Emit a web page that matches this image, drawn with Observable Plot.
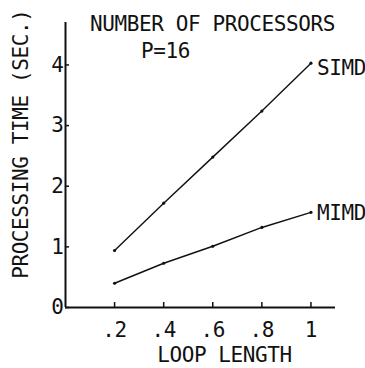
<!DOCTYPE html>
<html>
<head>
<meta charset="utf-8">
<script src="https://cdn.jsdelivr.net/npm/d3@7"></script>
<script src="https://cdn.jsdelivr.net/npm/@observablehq/plot@0.6"></script>
<style>
  html, body { margin: 0; padding: 0; background: #fff; }
  svg text { letter-spacing: -0.4px; }
</style>
</head>
<body>
<div id="chart"></div>
<script>
const loopLength = [0.2, 0.4, 0.6, 0.8, 1.0];
const simd = [0.94, 1.72, 2.48, 3.24, 4.03];
const mimd = [0.40, 0.73, 1.01, 1.32, 1.57];
const xTicks = [0.2, 0.4, 0.6, 0.8, 1.0];
const xTickLabels = [".2", ".4", ".6", ".8", "1"];
const yTicks = [0, 1, 2, 3, 4];
const seriesNames = ["SIMD", "MIMD"];
const title = "NUMBER OF PROCESSORS";
const subtitle = "P=16";
const xLabel = "LOOP LENGTH";
const yLabel = "PROCESSING TIME (SEC.)";

const data = [];
[simd, mimd].forEach((vals, s) => vals.forEach((v, i) => data.push({series: seriesNames[s], x: loopLength[i], y: v})));
const last = loopLength.length - 1;
const simdEnd = [{series: seriesNames[0], x: loopLength[last], y: simd[last]}];
const mimdEnd = [{series: seriesNames[1], x: loopLength[last], y: mimd[last]}];

const font = "DejaVu Sans Mono";
const fs = 21;
const chart = Plot.plot({
  width: 365,
  height: 368,
  marginLeft: 65,
  marginRight: 30,
  marginTop: 22,
  marginBottom: 61,
  style: {fontFamily: font, fontSize: fs + "px", color: "#111", background: "#fff"},
  x: {domain: [0, 1.1]},
  y: {domain: [0, 4.7]},
  marks: [
    Plot.axisX({ticks: xTicks, tickFormat: (d) => xTickLabels[xTicks.indexOf(d)], tickSize: -5, tickPadding: 20, label: null, stroke: "#111", strokeWidth: 1.5, fontSize: fs}),
    Plot.axisY({ticks: yTicks, tickFormat: d3.format("d"), tickSize: -4, tickPadding: 6, label: null, stroke: "#111", strokeWidth: 1.5, fontSize: fs}),
    Plot.ruleY([0], {stroke: "#111", strokeWidth: 2}),
    Plot.ruleX([0], {stroke: "#111", strokeWidth: 2}),
    Plot.line(data, {x: "x", y: "y", z: "series", stroke: "#111", strokeWidth: 1.4}),
    Plot.dot(data, {x: "x", y: "y", r: 1.6, fill: "#111"}),
    Plot.text(simdEnd, {x: "x", y: "y", text: "series", textAnchor: "start", dx: 6, dy: 5, fontSize: fs, fill: "#111"}),
    Plot.text(mimdEnd, {x: "x", y: "y", text: "series", textAnchor: "start", dx: 6, dy: 1, fontSize: fs, fill: "#111"}),
    Plot.text([title], {frameAnchor: "top", text: d => d, dx: 12, dy: -6, fontSize: fs, fill: "#111"}),
    Plot.text([subtitle], {frameAnchor: "top", text: d => d, dx: -35, dy: 21, fontSize: fs, fill: "#111"}),
    Plot.text([xLabel], {frameAnchor: "bottom", text: d => d, dx: 24, dy: 54, fontSize: fs, fill: "#111"}),
    Plot.text([yLabel], {frameAnchor: "top-left", text: d => d, rotate: -90, textAnchor: "end", dx: -52, dy: -13, fontSize: fs, fill: "#111"})
  ]
});
document.getElementById("chart").appendChild(chart);
</script>
</body>
</html>
